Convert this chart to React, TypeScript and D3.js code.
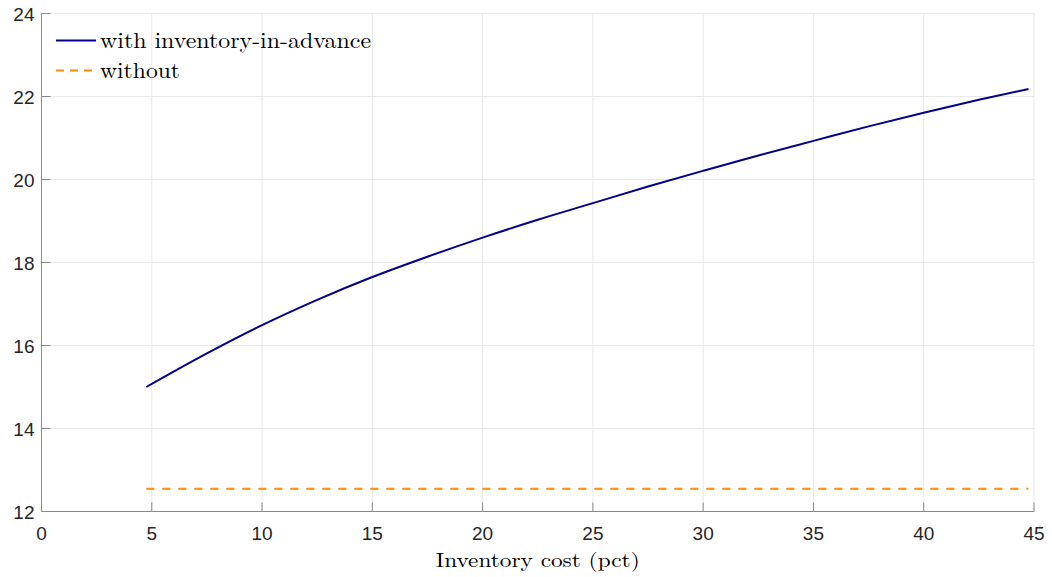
import React, { useEffect, useRef } from "react";
import * as d3 from "d3";

// inventory cost (pct) and value with inventory-in-advance
const costPct = [4.75, 7.5, 10, 12.5, 15, 17.5, 20, 22.5, 25, 27.5, 30, 32.5, 35, 37.5, 40, 42.5, 44.75];
const withAdvance = [15.0, 15.81, 16.49, 17.1, 17.65, 18.14, 18.6, 19.03, 19.43, 19.83, 20.21, 20.58, 20.93, 21.28, 21.61, 21.92, 22.18];
const withoutLevel = 12.55;

const xTicks = [0, 5, 10, 15, 20, 25, 30, 35, 40, 45];
const yTicks = [12, 14, 16, 18, 20, 22, 24];
const legendLabels = ["with inventory-in-advance", "without"];

const W = 1052;
const H = 577;
const margin = { left: 41.5, right: 18, top: 13.5, bottom: 65.5 };

export default function App() {
  const ref = useRef<SVGSVGElement>(null);

  useEffect(() => {
    const svg = d3.select(ref.current);
    svg.selectAll("*").remove();

    const x = d3.scaleLinear().domain([0, 45]).range([margin.left, W - margin.right]);
    const y = d3.scaleLinear().domain([12, 24]).range([H - margin.bottom, margin.top]);

    const grid = svg.append("g");
    grid
      .selectAll("line.vx")
      .data(xTicks)
      .enter()
      .append("line")
      .attr("x1", (d) => x(d))
      .attr("x2", (d) => x(d))
      .attr("y1", y(12))
      .attr("y2", y(24))
      .attr("stroke", "#e8e8e8")
      .attr("stroke-width", 1);
    grid
      .selectAll("line.hy")
      .data(yTicks)
      .enter()
      .append("line")
      .attr("x1", x(0))
      .attr("x2", x(45))
      .attr("y1", (d) => y(d))
      .attr("y2", (d) => y(d))
      .attr("stroke", "#e8e8e8")
      .attr("stroke-width", 1);

    // axes
    const axisColor = "#8a8a8a";
    svg
      .append("line")
      .attr("x1", x(0))
      .attr("x2", x(45))
      .attr("y1", y(12))
      .attr("y2", y(12))
      .attr("stroke", axisColor);
    svg
      .append("line")
      .attr("x1", x(0))
      .attr("x2", x(0))
      .attr("y1", y(12))
      .attr("y2", y(24))
      .attr("stroke", axisColor);

    svg
      .selectAll("line.xt")
      .data(xTicks)
      .enter()
      .append("line")
      .attr("x1", (d) => x(d))
      .attr("x2", (d) => x(d))
      .attr("y1", y(12))
      .attr("y2", y(12) - 9)
      .attr("stroke", axisColor);
    svg
      .selectAll("line.yt")
      .data(yTicks)
      .enter()
      .append("line")
      .attr("x1", x(0))
      .attr("x2", x(0) + 9)
      .attr("y1", (d) => y(d))
      .attr("y2", (d) => y(d))
      .attr("stroke", axisColor);

    const tickFont = "'Liberation Sans', Arial, sans-serif";
    svg
      .selectAll("text.xl")
      .data(xTicks)
      .enter()
      .append("text")
      .attr("x", (d) => x(d))
      .attr("y", y(12) + 28.5)
      .attr("text-anchor", "middle")
      .attr("font-family", tickFont)
      .attr("font-size", 19)
      .attr("fill", "#262626")
      .text((d) => d);
    svg
      .selectAll("text.yl")
      .data(yTicks)
      .enter()
      .append("text")
      .attr("x", x(0) - 7)
      .attr("y", (d) => y(d) + 7.5)
      .attr("text-anchor", "end")
      .attr("font-family", tickFont)
      .attr("font-size", 19)
      .attr("fill", "#262626")
      .text((d) => d);

    // series
    const line = d3
      .line<number>()
      .x((_, i) => x(costPct[i]))
      .y((d) => y(d))
      .curve(d3.curveMonotoneX);

    svg
      .append("path")
      .datum(withAdvance)
      .attr("d", line)
      .attr("fill", "none")
      .attr("stroke", "#00008b")
      .attr("stroke-width", 2);

    const flat = costPct.map(() => withoutLevel);
    svg
      .append("path")
      .datum(flat)
      .attr("d", line)
      .attr("fill", "none")
      .attr("stroke", "#ff8c00")
      .attr("stroke-width", 2)
      .attr("stroke-dasharray", "8,8");

    // legend
    const serif = "'Latin Modern Roman', 'CMU Serif', 'Liberation Serif', serif";
    const leg = svg.append("g");
    const styles = [
      { color: "#00008b", dash: null },
      { color: "#ff8c00", dash: "8,6" },
    ];
    legendLabels.forEach((lab, i) => {
      const ly = 40.5 + i * 30;
      leg
        .append("line")
        .attr("x1", 56)
        .attr("x2", 96)
        .attr("y1", ly)
        .attr("y2", ly)
        .attr("stroke", styles[i].color)
        .attr("stroke-width", 2)
        .attr("stroke-dasharray", styles[i].dash);
      leg
        .append("text")
        .attr("x", 100)
        .attr("y", ly + 7.5)
        .attr("font-family", serif)
        .attr("font-size", 22)
        .attr("fill", "#000")
        .attr("textLength", i === 0 ? 271 : 80)
        .attr("lengthAdjust", "spacingAndGlyphs")
        .text(lab);
    });

    svg
      .append("text")
      .attr("x", (x(0) + x(45)) / 2)
      .attr("y", 567)
      .attr("text-anchor", "middle")
      .attr("font-family", serif)
      .attr("font-size", 20)
      .attr("fill", "#000")
      .attr("textLength", 204)
      .attr("lengthAdjust", "spacingAndGlyphs")
      .text("Inventory cost (pct)");
  }, []);

  return (
    <div style={{ position: "absolute", left: 0, top: 0 }}>
      <svg ref={ref} width={W} height={H} style={{ display: "block", background: "#fff" }} />
    </div>
  );
}
